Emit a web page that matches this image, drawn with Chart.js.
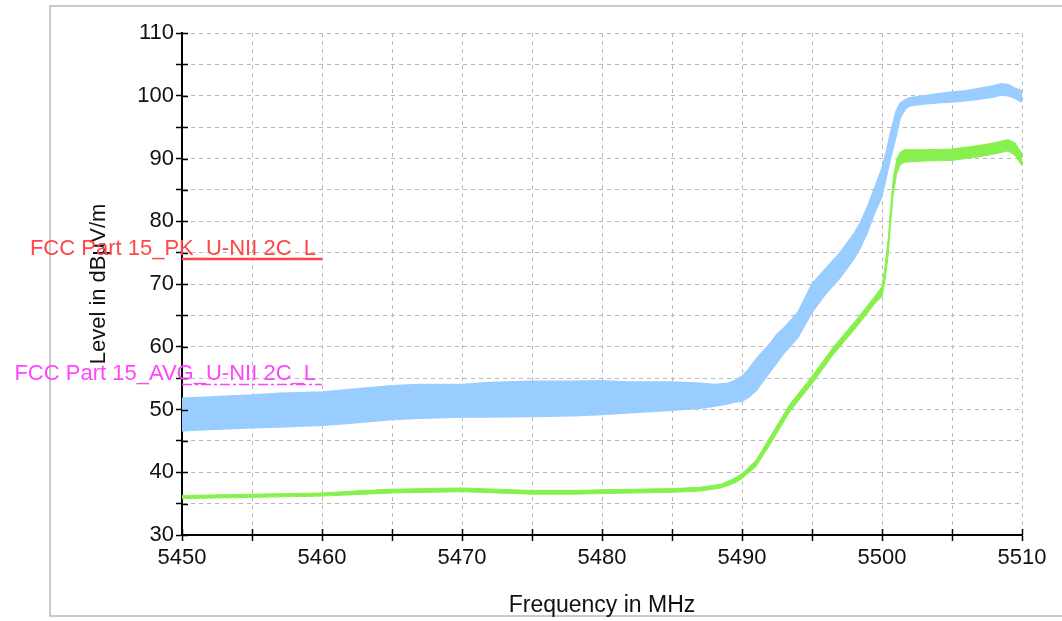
<!DOCTYPE html>
<html>
<head>
<meta charset="utf-8">
<script src="https://cdn.jsdelivr.net/npm/chart.js@4"></script>
<style>
  html, body { margin: 0; padding: 0; background: #fff; }
  #wrap { width: 1062px; height: 621px; }
</style>
</head>
<body>
<div id="wrap"><canvas id="grafico" width="1062" height="621"></canvas></div>
<script>
// peak trace (noisy band: upper and lower edge), MHz / dBµV/m
const pkFreq = [5450, 5452, 5455, 5457, 5460, 5462, 5465, 5467, 5470, 5472, 5475, 5478, 5480, 5482, 5485, 5487, 5488, 5489, 5489.5,
  5490, 5490.5, 5491, 5492, 5492.5, 5493, 5494, 5495, 5496, 5497, 5498, 5498.5, 5499, 5499.5, 5500, 5500.3, 5500.6,
  5501, 5501.3, 5501.7, 5502, 5503, 5504, 5505, 5506, 5507, 5508, 5508.5, 5509, 5509.5, 5510];
const pkHigh = [51.8, 52.0, 52.3, 52.6, 52.8, 53.2, 53.8, 54.0, 54.0, 54.3, 54.5, 54.5, 54.6, 54.4, 54.4, 54.2, 54.0, 54.2, 54.6,
  55.3, 56.5, 58.0, 60.5, 62.0, 63.0, 65.5, 70.0, 72.5, 75.0, 78.0, 80.0, 82.5, 85.5, 88.5, 91.0, 94.0,
  97.5, 98.8, 99.4, 99.7, 100.0, 100.3, 100.6, 100.8, 101.2, 101.6, 101.9, 101.8, 101.2, 100.8];
const pkLow = [46.6, 46.8, 47.1, 47.2, 47.5, 47.8, 48.4, 48.6, 48.8, 48.8, 48.9, 49.0, 49.2, 49.5, 49.9, 50.2, 50.5, 50.9, 51.2,
  51.3, 52.0, 53.0, 56.0, 57.5, 59.0, 61.5, 65.5, 68.5, 71.0, 74.0, 76.0, 78.5, 81.5, 84.0, 87.0, 90.0,
  93.5, 96.5, 98.0, 98.4, 98.7, 98.9, 99.0, 99.2, 99.5, 99.8, 100.1, 100.0, 99.6, 99.0];

// average trace
const avFreq = [5450, 5455, 5460, 5463, 5465, 5470, 5475, 5478, 5480, 5485, 5487, 5488.5, 5489.5, 5490, 5491, 5492,
  5493.4, 5495, 5496.5, 5498.2, 5499.5, 5500, 5500.2, 5500.45, 5500.6, 5500.8, 5501.05, 5501.3, 5501.6,
  5503, 5505, 5507, 5508, 5509, 5509.5, 5510];
const avHigh = [36.3, 36.5, 36.7, 37.1, 37.3, 37.5, 37.1, 37.1, 37.2, 37.4, 37.6, 38.1, 39.1, 39.8, 41.9, 45.6,
  50.8, 55.3, 59.9, 64.4, 68.1, 69.6, 72.6, 77.3, 81.8, 86.8, 89.8, 91.0, 91.4,
  91.4, 91.5, 92.1, 92.5, 93.0, 92.5, 90.8];
const avLow = [35.8, 36.0, 36.2, 36.5, 36.7, 36.9, 36.5, 36.5, 36.6, 36.8, 37.0, 37.5, 38.3, 39.0, 40.9, 44.4,
  49.6, 54.1, 58.7, 63.2, 66.9, 68.0, 70.4, 74.7, 79.2, 84.2, 87.6, 89.0, 89.4,
  89.6, 89.7, 90.3, 90.7, 91.2, 90.5, 88.8];

// limit lines
const limitNames = ['FCC Part 15_PK_U-NII 2C_L', 'FCC Part 15_AVG_U-NII 2C_L'];
const limitLevels = [74, 54];
const limitStart = 5450;
const limitEnd = 5460;

// axes
const xMin = 5450, xMax = 5510, xStep = 5;
const yMin = 30, yMax = 110, yStep = 5;

const pts = (xs, ys) => xs.map((x, i) => ({ x: x, y: ys[i] }));
const limitPts = (lvl) => [{ x: limitStart, y: lvl }, { x: limitEnd, y: lvl }];

const fontFam = "'Liberation Sans', Arial, sans-serif";
const blue = '#99ccff';
const green = '#88f04e';
const limitColors = ['#ff4646', '#ff44ff'];

// light grey frame round the whole plot, inner tick stubs, limit names above their lines
const extras = {
  id: 'extras',
  beforeDraw(chart) {
    const c = chart.ctx;
    c.save();
    c.strokeStyle = '#c9c9c9';
    c.lineWidth = 2;
    c.strokeRect(50, 6, 1040, 610);
    c.restore();
  },
  afterDraw(chart) {
    const c = chart.ctx;
    const xs = chart.scales.x, ys = chart.scales.y;
    const area = chart.chartArea;
    c.save();
    c.strokeStyle = '#000';
    c.lineWidth = 1.5;
    c.beginPath();
    xs.ticks.forEach((t) => {
      const px = Math.round(xs.getPixelForValue(t.value)) + 0.5;
      c.moveTo(px, area.bottom);
      c.lineTo(px, area.bottom - 6);
    });
    ys.ticks.forEach((t) => {
      const py = Math.round(ys.getPixelForValue(t.value)) + 0.5;
      c.moveTo(area.left, py);
      c.lineTo(area.left + 6, py);
    });
    c.stroke();

    c.font = '22px ' + fontFam;
    c.textAlign = 'right';
    c.textBaseline = 'alphabetic';
    limitNames.forEach((name, i) => {
      const px = xs.getPixelForValue(limitEnd) - 6;
      const py = ys.getPixelForValue(limitLevels[i]) - 4;
      c.fillStyle = limitColors[i];
      c.fillText(name, px, py);
    });
    c.restore();
  }
};

const config = {
  type: 'line',
  data: {
    datasets: [
      { data: pts(pkFreq, pkHigh), borderColor: blue, backgroundColor: blue, borderWidth: 1.5, fill: false },
      { data: pts(pkFreq, pkLow), borderColor: blue, backgroundColor: blue, borderWidth: 1.5, fill: '-1' },
      { data: pts(avFreq, avHigh), borderColor: green, backgroundColor: green, borderWidth: 1, fill: false },
      { data: pts(avFreq, avLow), borderColor: green, backgroundColor: green, borderWidth: 1, fill: '-1' },
      { data: limitPts(limitLevels[0]), borderColor: limitColors[0], borderWidth: 2.5, fill: false },
      { data: limitPts(limitLevels[1]), borderColor: limitColors[1], borderWidth: 1.5, borderDash: [10, 3, 3, 3], fill: false }
    ]
  },
  options: {
    responsive: false,
    animation: false,
    layout: { padding: { left: 84, right: 40, top: 33, bottom: 0 } },
    elements: { point: { radius: 0 }, line: { tension: 0 } },
    plugins: { legend: { display: false }, tooltip: { enabled: false } },
    scales: {
      x: {
        type: 'linear',
        min: xMin, max: xMax,
        afterFit: (s) => { s.height = 86; },
        ticks: {
          stepSize: xStep,
          color: '#111',
          padding: 4,
          maxRotation: 0,
          font: { family: fontFam, size: 22 },
          callback: (v) => (v % 10 === 0 ? v : '')
        },
        grid: { color: '#b8b8b8', lineWidth: 1, tickColor: '#000', tickLength: 6, tickWidth: 1.5 },
        border: { color: '#000', width: 2, dash: [4, 4] },
        title: { display: true, text: 'Frequency in MHz', color: '#111', font: { family: fontFam, size: 23 }, padding: { top: 0, bottom: 2 } }
      },
      y: {
        min: yMin, max: yMax,
        afterFit: (s) => { s.width = 98; },
        ticks: {
          stepSize: yStep,
          color: '#111',
          padding: 2,
          font: { family: fontFam, size: 22 },
          callback: (v) => (v % 10 === 0 ? v : '')
        },
        grid: { color: '#b8b8b8', lineWidth: 1, tickColor: '#000', tickLength: 6, tickWidth: 1.5 },
        border: { color: '#000', width: 2, dash: [4, 4] },
        title: { display: true, text: 'Level in dBµV/m', color: '#111', font: { family: fontFam, size: 22 }, padding: { top: 2, bottom: 0 } }
      }
    }
  },
  plugins: [extras]
};

const ctx = document.getElementById('grafico').getContext('2d');
new Chart(ctx, config);
</script>
</body>
</html>
